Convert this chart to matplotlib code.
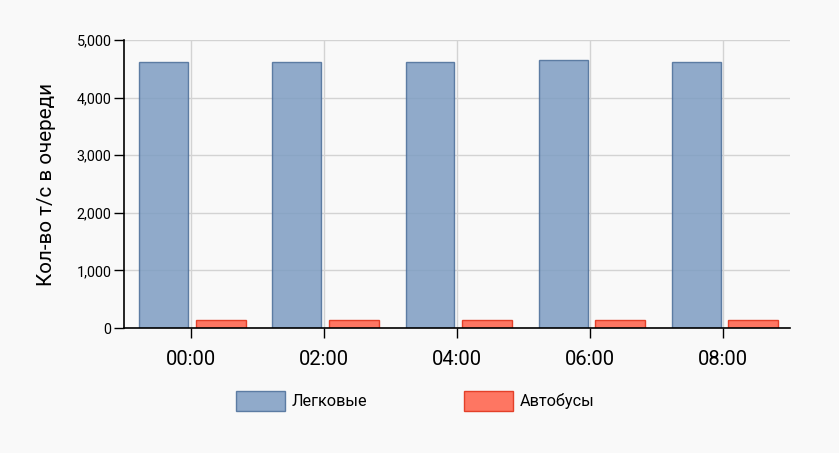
import matplotlib
matplotlib.use("Agg")
import matplotlib.pyplot as plt
import numpy as np

categories = ["00:00", "02:00", "04:00", "06:00", "08:00"]
cars = [4610, 4610, 4610, 4660, 4610]
buses = [140, 140, 140, 140, 140]
series_names = ["Легковые", "Автобусы"]
yticks = [0, 1000, 2000, 3000, 4000, 5000]

plt.rcParams['font.family'] = ['Roboto', 'DejaVu Sans']
bg = '#f9f9f9'
fig = plt.figure(figsize=(8.39, 4.53), dpi=100, facecolor=bg)
ax = fig.add_axes([124/839, 1-328/453, 666/839, 288/453], facecolor=bg)

x = np.arange(len(categories))
ax.set_axisbelow(True)
ax.grid(True, color='#d3d3d3', linewidth=1)
b1 = ax.bar(x - 0.203, cars, width=0.367, color='#7e9dc2', alpha=0.85,
            edgecolor='#4a6d99', linewidth=1, label=series_names[0])
b2 = ax.bar(x + 0.225, buses, width=0.375, color='#ff6f5a', alpha=0.95,
            edgecolor='#e23a22', linewidth=1, label=series_names[1])

ax.set_xlim(-0.5, len(categories) - 0.5)
ax.set_ylim(0, 5000)
ax.set_xticks(x)
ax.set_xticklabels(categories, fontsize=14.5)
ax.set_yticks(yticks)
ax.set_yticklabels([f"{v:,}" for v in yticks], fontsize=10.4)
ax.tick_params(axis='y', length=7, width=1, pad=2)
ax.tick_params(axis='x', length=7, width=1, pad=9)
for s in ['top', 'right']:
    ax.spines[s].set_visible(False)
for s in ['left', 'bottom']:
    ax.spines[s].set_color('black')
    ax.spines[s].set_linewidth(1.2)
ax.set_ylabel("Кол-во т/с в очереди", fontsize=14.9, labelpad=15)

fig.legend(handles=[b1, b2], labels=series_names, loc='center',
           bbox_to_anchor=(415/839, 1-401/453), ncol=2, frameon=False,
           fontsize=11.7, handlelength=3.0, handleheight=1.48,
           handletextpad=0.4, columnspacing=6.0)

fig.savefig("out.png", dpi=100, facecolor=bg)
